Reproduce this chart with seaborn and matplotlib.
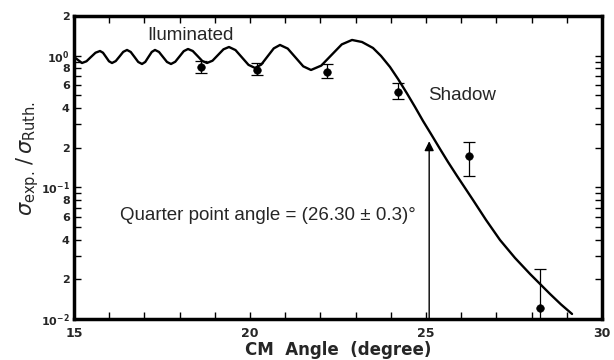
import matplotlib
matplotlib.use("Agg")
import matplotlib.pyplot as plt
import matplotlib.ticker as mticker
import numpy as np
import pandas as pd
import seaborn as sns

# theory curve (CM angle in degree, ratio to Rutherford)
curve_angle = [15.000, 15.114, 15.227, 15.355, 15.483, 15.611, 15.739, 15.824, 15.909, 15.994,
               16.080, 16.186, 16.293, 16.399, 16.506, 16.612, 16.719, 16.825, 16.932, 17.024,
               17.116, 17.209, 17.301, 17.415, 17.528, 17.642, 17.756, 17.876, 17.997, 18.118,
               18.239, 18.374, 18.509, 18.643, 18.778, 18.935, 19.091, 19.247, 19.403, 19.588,
               19.773, 19.957, 20.142, 20.320, 20.497, 20.675, 20.852, 21.072, 21.293, 21.513,
               21.733, 22.024, 22.315, 22.607, 22.898, 23.182, 23.494, 23.722, 23.977, 24.205,
               24.460, 24.688, 24.915, 25.142, 25.398, 25.625, 25.881, 26.108, 26.335, 26.705,
               27.102, 27.528, 27.955, 28.239, 28.523, 28.835, 29.148]
curve_ratio = [0.977, 0.927, 0.879, 0.906, 0.977, 1.052, 1.084, 1.052, 0.977, 0.906,
               0.879, 0.909, 0.985, 1.068, 1.104, 1.066, 0.977, 0.895, 0.864, 0.895,
               0.977, 1.066, 1.104, 1.066, 0.977, 0.895, 0.864, 0.898, 0.985, 1.081,
               1.123, 1.084, 0.994, 0.911, 0.879, 0.915, 1.011, 1.117, 1.163, 1.102,
               0.968, 0.851, 0.806, 0.855, 0.985, 1.135, 1.205, 1.131, 0.968, 0.829,
               0.778, 0.840, 1.011, 1.217, 1.315, 1.269, 1.143, 0.994, 0.820, 0.665,
               0.516, 0.4074, 0.319, 0.254, 0.1955, 0.1557, 0.1220, 0.0989, 0.0801, 0.0565,
               0.0398, 0.02908, 0.02198, 0.01845, 0.01549, 0.01290, 0.01092]

# measured points
exp_angle = [18.61, 20.19, 22.20, 24.21, 26.22, 28.24]
exp_ratio = [0.820, 0.778, 0.755, 0.532, 0.174, 0.0121]
err_high = [0.915, 0.875, 0.860, 0.617, 0.222, 0.0240]
err_low = [0.740, 0.709, 0.680, 0.469, 0.1226, 0.0001]

quarter_angle = 25.09
arrow_tip = 0.235

sns.set_style("ticks")
plt.rcParams["font.family"] = ["Liberation Sans", "DejaVu Sans"]

fig = plt.figure(figsize=(6.14, 3.6), dpi=100)
ax = fig.add_axes([0.1205, 0.1139, 0.86, 0.8417])

curve_df = pd.DataFrame({"angle": curve_angle, "ratio": curve_ratio})
sns.lineplot(data=curve_df, x="angle", y="ratio", color="black", linewidth=1.7, ax=ax, sort=False)

yerr = [np.array(exp_ratio) - np.array(err_low), np.array(err_high) - np.array(exp_ratio)]
ax.errorbar(exp_angle, exp_ratio, yerr=yerr, fmt="none", ecolor="black", elinewidth=0.9, capsize=4, capthick=0.9)
sns.scatterplot(x=exp_angle, y=exp_ratio, color="black", s=30, edgecolor="black", ax=ax, zorder=3)

ax.annotate("", xy=(quarter_angle, arrow_tip), xytext=(quarter_angle, 0.0095),
            arrowprops=dict(arrowstyle="-|>", color="black", lw=1.0, mutation_scale=14))

ax.set_yscale("log")
ax.set_xlim(15, 30)
ax.set_ylim(0.01, 2)

ax.xaxis.set_major_locator(mticker.FixedLocator([15, 20, 25, 30]))
ax.xaxis.set_minor_locator(mticker.MultipleLocator(1))
ax.yaxis.set_major_locator(mticker.FixedLocator([0.01, 0.02, 0.04, 0.06, 0.08, 0.1, 0.2, 0.4, 0.6, 0.8, 1, 2]))
ax.yaxis.set_minor_locator(mticker.FixedLocator([0.03, 0.05, 0.07, 0.09, 0.3, 0.5, 0.7, 0.9]))
ax.set_yticklabels([r"$\mathbf{10^{-2}}$", "2", "4", "6", "8", r"$\mathbf{10^{-1}}$",
                    "2", "4", "6", "8", r"$\mathbf{10^{0}}$", "2"])
ax.set_xticklabels(["15", "20", "25", "30"])

for lab in ax.get_xticklabels():
    lab.set_fontweight("bold")
    lab.set_family("DejaVu Sans")
    lab.set_fontsize(9)
for lab in ax.get_yticklabels():
    lab.set_fontweight("bold")
    lab.set_family("DejaVu Sans")
    lab.set_fontsize(8)

ax.tick_params(which="both", direction="in", top=True, right=True, length=5, width=1.0, color="black")
ax.tick_params(axis="x", pad=6)
ax.tick_params(axis="y", pad=3)
for s in ax.spines.values():
    s.set_linewidth(2.5)
    s.set_color("black")

ax.set_xlabel("CM  Angle  (degree)", fontsize=12, fontweight="bold", family="DejaVu Sans")
ax.xaxis.set_label_coords(0.5, -0.074)
ax.set_ylabel(r"$\sigma_{\mathrm{exp.}}\,/\,\sigma_{\mathrm{Ruth.}}$", fontsize=15)
ax.yaxis.set_label_coords(-0.062, 0.53)

ax.text(17.07, 1.41, "Iluminated", fontsize=13.5, va="center")
ax.text(25.06, 0.502, "Shadow", fontsize=13.5, va="center")
ax.text(16.31, 0.0606, "Quarter point angle = (26.30 ± 0.3)°", fontsize=13.5, va="center")

fig.savefig("out.png", dpi=100)
plt.close(fig)
